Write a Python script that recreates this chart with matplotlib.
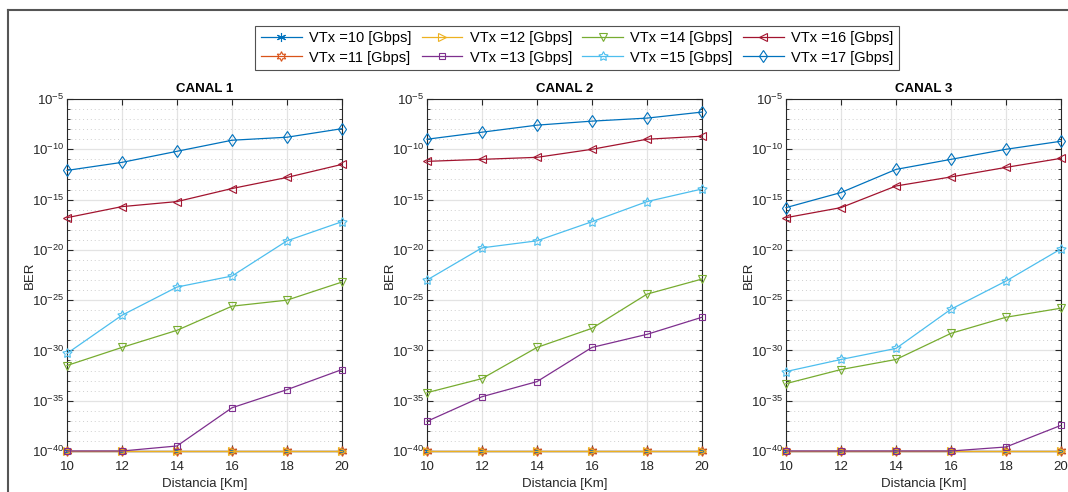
import numpy as np
import matplotlib.pyplot as plt
from matplotlib.lines import Line2D

plt.rcParams['font.family'] = ['Liberation Sans', 'DejaVu Sans']

dist = [10, 12, 14, 16, 18, 20]
vtx = [10, 11, 12, 13, 14, 15, 16, 17]

# log10(BER) por canal
c1 = {
    10: [-40, -40, -40, -40, -40, -40],
    11: [-40, -40, -40, -40, -40, -40],
    12: [-40, -40, -40, -40, -40, -40],
    13: [-40, -40, -39.5, -35.7, -33.9, -31.9],
    14: [-31.5, -29.7, -28.0, -25.6, -25.0, -23.2],
    15: [-30.3, -26.5, -23.7, -22.6, -19.1, -17.2],
    16: [-16.8, -15.7, -15.2, -13.9, -12.8, -11.5],
    17: [-12.1, -11.3, -10.2, -9.1, -8.8, -7.95],
}
c2 = {
    10: [-40, -40, -40, -40, -40, -40],
    11: [-40, -40, -40, -40, -40, -40],
    12: [-40, -40, -40, -40, -40, -40],
    13: [-37.05, -34.6, -33.1, -29.7, -28.4, -26.7],
    14: [-34.2, -32.8, -29.7, -27.8, -24.4, -22.9],
    15: [-23.0, -19.8, -19.1, -17.2, -15.2, -13.95],
    16: [-11.2, -11.0, -10.8, -10.0, -9.0, -8.7],
    17: [-9.0, -8.3, -7.6, -7.2, -6.9, -6.3],
}
c3 = {
    10: [-40, -40, -40, -40, -40, -40],
    11: [-40, -40, -40, -40, -40, -40],
    12: [-40, -40, -40, -40, -40, -40],
    13: [-40, -40, -40, -40, -39.6, -37.45],
    14: [-33.3, -31.9, -30.9, -28.3, -26.7, -25.8],
    15: [-32.1, -30.9, -29.8, -25.9, -23.1, -19.9],
    16: [-16.8, -15.8, -13.65, -12.75, -11.8, -10.9],
    17: [-15.8, -14.3, -12.0, -11.0, -10.0, -9.2],
}
canales = [("CANAL 1", c1), ("CANAL 2", c2), ("CANAL 3", c3)]

colors = {10: '#0072BD', 11: '#D95319', 12: '#EDB120', 13: '#7E2F8E',
          14: '#77AC30', 15: '#4DBEEE', 16: '#A2142F', 17: '#0072BD'}
# asterisco, hexagrama, pentagrama como en MATLAB
markers = {10: (6, 2, 0), 11: (6, 1, 0), 12: '>', 13: 's', 14: 'v',
           15: (5, 1, 0), 16: '<', 17: 'd'}
sizes = {10: 6.5, 11: 7, 12: 6, 13: 5, 14: 6, 15: 7, 16: 6, 17: 6.5}

fig = plt.figure(figsize=(10.68, 4.92), dpi=100)
W, H = 1068, 492
lefts = [67, 427, 786]
aw = 275
top, bot = 99, 451

major = [10.0**k for k in range(-40, -4, 5)]
minor = [10.0**k for k in range(-40, -4) if k % 5 != 0]
labels = [r'$\mathregular{10^{%d}}$' % k for k in range(-40, -4, 5)]

handles = []
for i, (tit, data) in enumerate(canales):
    ax = fig.add_axes([lefts[i] / W, 1 - bot / H, aw / W, (bot - top) / H])
    for v in vtx:
        h, = ax.semilogy(dist, 10.0 ** np.array(data[v]), color=colors[v],
                         marker=markers[v], markerfacecolor='none', ms=sizes[v],
                         lw=0.9, mew=0.8, clip_on=False, zorder=3,
                         label=f'VTx ={v} [Gbps]')
        if i == 0:
            handles.append(h)
    ax.set_xlim(10, 20)
    ax.set_ylim(1e-40, 1e-5)
    ax.set_xticks(dist)
    ax.set_yticks(major)
    ax.set_yticklabels(labels)
    ax.set_yticks(minor, minor=True)
    ax.yaxis.set_minor_formatter(plt.NullFormatter())
    ax.grid(True, which='major', color='#e3e3e3', lw=0.9)
    ax.grid(True, which='minor', axis='y', color='#cfcfcf', ls=(0, (1, 3)), lw=0.7)
    ax.tick_params(which='both', direction='in', top=True, right=True,
                   labelsize=9.5, colors='#262626')
    ax.tick_params(axis='x', pad=7)
    ax.tick_params(axis='y', pad=2)
    ax.tick_params(which='major', length=4)
    ax.tick_params(which='minor', length=2.5)
    for s in ax.spines.values():
        s.set_color('#262626')
        s.set_linewidth(0.8)
    ax.set_axisbelow(True)
    ax.set_title(tit, fontsize=9.5, fontweight='bold', pad=5)
    ax.set_xlabel('Distancia [Km]', fontsize=9.5, color='#262626', labelpad=4)
    ax.set_ylabel('BER', fontsize=9.5, color='#262626')
    ax.yaxis.set_label_coords(-31 / aw, 0.5)

leg = fig.legend(handles=handles, ncol=4, loc='center',
                 bbox_to_anchor=(577 / W, 1 - 48 / H), fontsize=10.5,
                 frameon=True, fancybox=False, edgecolor='#262626',
                 handlelength=2.8, columnspacing=0.7, handletextpad=0.5,
                 borderpad=0.4, labelspacing=0.35)
leg.get_frame().set_linewidth(0.8)

# marco de la figura
fig.add_artist(Line2D([8 / W, 8 / W], [0, 1 - 10 / H], color='#555555', lw=1.5,
                      transform=fig.transFigure))
fig.add_artist(Line2D([8 / W, 1], [1 - 10 / H, 1 - 10 / H], color='#555555', lw=1.5,
                      transform=fig.transFigure))

fig.savefig('out.png', dpi=100)
